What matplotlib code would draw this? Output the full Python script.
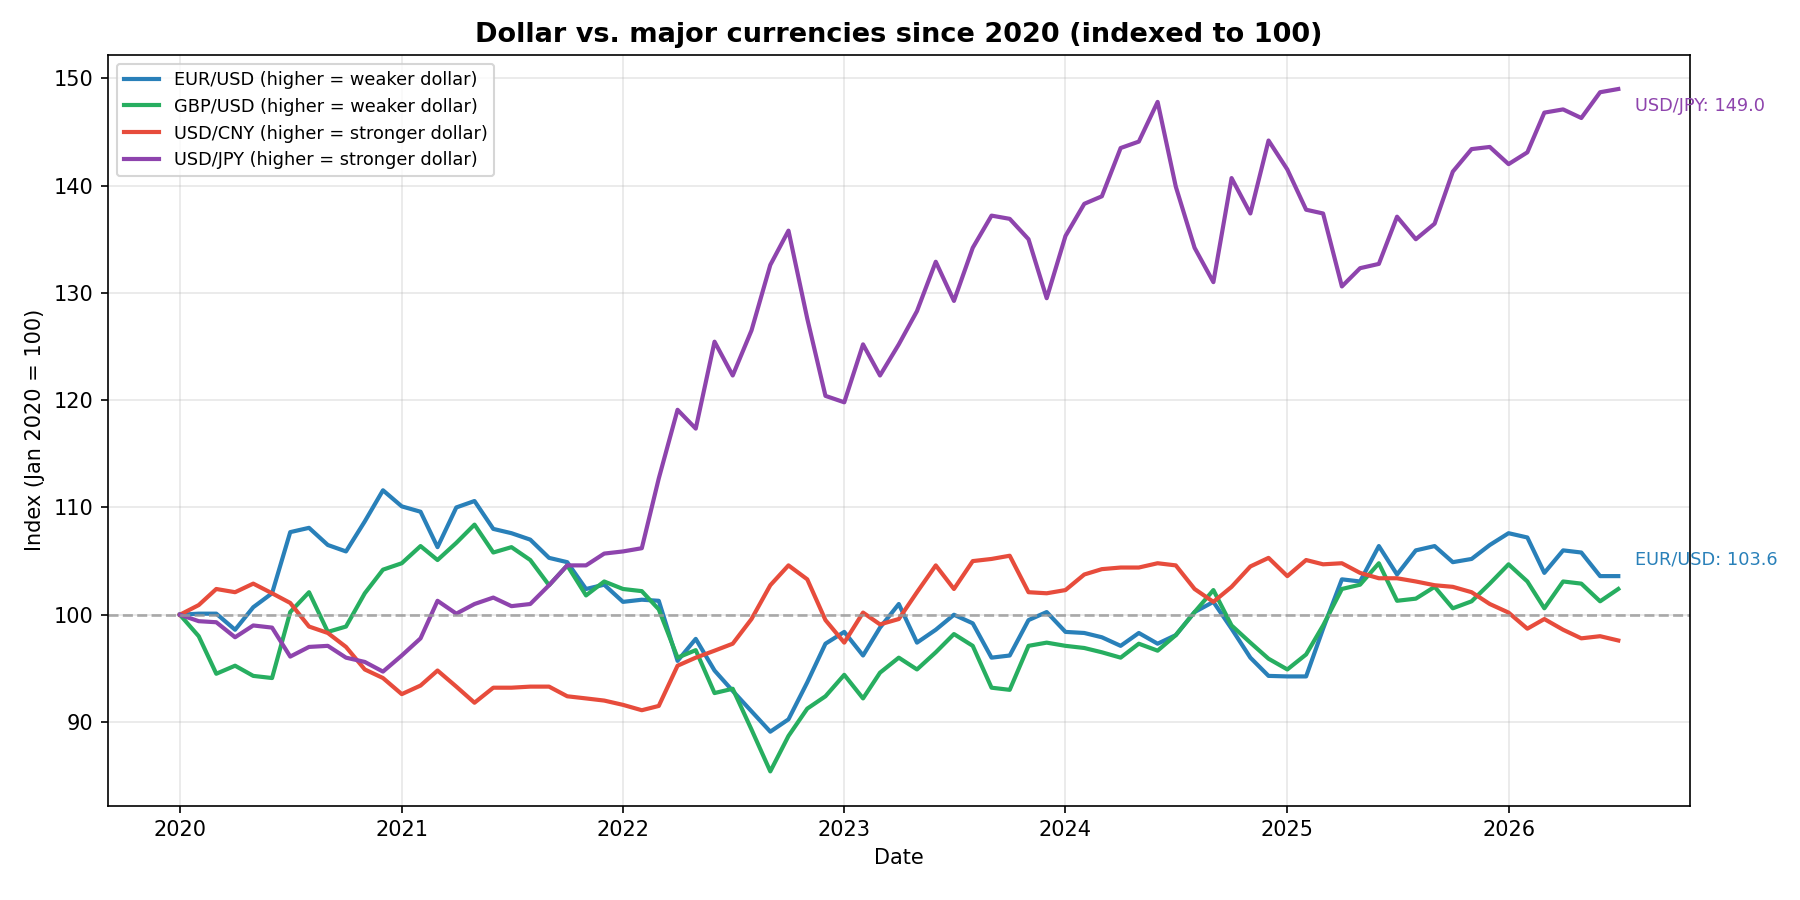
import pandas as pd
import matplotlib
matplotlib.use("Agg")
import matplotlib.pyplot as plt
import matplotlib.dates as mdates

plt.rcParams['font.family'] = ['DejaVu Sans']

# monthly index values, Jan 2020 .. Jul 2026 (Jan 2020 = 100)
dates = pd.date_range("2020-01-01", periods=79, freq="MS")

eur_usd = [100.0, 100.1, 100.1, 98.6, 100.7, 102.0, 107.7, 108.1, 106.5, 105.9, 108.7, 111.6,
           110.1, 109.6, 106.3, 110.0, 110.6, 108.0, 107.6, 107.0, 105.3, 104.9, 102.4, 102.8,
           101.2, 101.4, 101.3, 95.7, 97.75, 94.8, 92.9, 91.0, 89.1, 90.25, 93.7, 97.3,
           98.4, 96.2, 98.8, 101.0, 97.4, 98.6, 100.0, 99.2, 96.0, 96.2, 99.5, 100.25,
           98.4, 98.3, 97.9, 97.1, 98.3, 97.3, 98.1, 100.25, 101.2, 98.7, 96.0, 94.3,
           94.25, 94.25, 98.7, 103.3, 103.1, 106.4, 103.75, 106.0, 106.4, 104.9, 105.2, 106.5,
           107.6, 107.2, 103.9, 106.0, 105.8, 103.6, 103.6]

gbp_usd = [100.0, 98.0, 94.5, 95.25, 94.3, 94.1, 100.25, 102.1, 98.4, 98.9, 102.0, 104.2,
           104.8, 106.4, 105.1, 106.7, 108.4, 105.8, 106.3, 105.1, 102.75, 104.6, 101.8, 103.1,
           102.4, 102.2, 100.5, 96.0, 96.7, 92.7, 93.1, 89.3, 85.4, 88.7, 91.25, 92.4,
           94.4, 92.2, 94.6, 96.0, 94.9, 96.5, 98.2, 97.1, 93.2, 93.0, 97.1, 97.4,
           97.1, 96.9, 96.5, 96.0, 97.3, 96.65, 98.1, 100.25, 102.3, 99.0, 97.4, 95.9,
           94.9, 96.3, 99.0, 102.4, 102.8, 104.8, 101.3, 101.5, 102.6, 100.6, 101.25, 102.9,
           104.7, 103.1, 100.6, 103.1, 102.9, 101.25, 102.4]

usd_cny = [100.0, 100.9, 102.4, 102.1, 102.9, 102.0, 101.1, 98.9, 98.3, 97.0, 94.9, 94.1,
           92.6, 93.4, 94.8, 93.3, 91.8, 93.2, 93.2, 93.3, 93.3, 92.4, 92.2, 92.0,
           91.6, 91.1, 91.5, 95.25, 96.0, 96.65, 97.3, 99.6, 102.75, 104.6, 103.3, 99.5,
           97.4, 100.2, 99.1, 99.6, 102.1, 104.6, 102.4, 105.0, 105.2, 105.5, 102.1, 102.0,
           102.3, 103.75, 104.25, 104.4, 104.4, 104.8, 104.6, 102.4, 101.2, 102.6, 104.5, 105.3,
           103.6, 105.1, 104.7, 104.8, 103.9, 103.4, 103.4, 103.1, 102.75, 102.6, 102.1, 101.0,
           100.2, 98.7, 99.6, 98.6, 97.8, 98.0, 97.6]

usd_jpy = [100.0, 99.4, 99.3, 97.9, 99.0, 98.8, 96.1, 97.0, 97.1, 96.0, 95.6, 94.7,
           96.2, 97.8, 101.3, 100.1, 101.0, 101.6, 100.8, 101.0, 102.75, 104.6, 104.6, 105.7,
           105.9, 106.2, 112.7, 119.1, 117.35, 125.45, 122.3, 126.5, 132.6, 135.8, 127.6, 120.4,
           119.8, 125.2, 122.3, 125.2, 128.3, 132.9, 129.25, 134.2, 137.2, 136.9, 135.0, 129.5,
           135.3, 138.3, 139.0, 143.5, 144.1, 147.8, 139.9, 134.2, 131.0, 140.7, 137.4, 144.2,
           141.5, 137.75, 137.4, 130.6, 132.3, 132.7, 137.1, 135.0, 136.45, 141.3, 143.4, 143.6,
           142.0, 143.1, 146.8, 147.1, 146.3, 148.7, 149.0]

labels = ["EUR/USD (higher = weaker dollar)", "GBP/USD (higher = weaker dollar)",
          "USD/CNY (higher = stronger dollar)", "USD/JPY (higher = stronger dollar)"]
colors = ["#2980b9", "#27ae60", "#e74c3c", "#8e44ad"]

fig, ax = plt.subplots(figsize=(12, 6), dpi=150)
fig.subplots_adjust(left=0.06, right=0.939, top=0.939, bottom=0.105)

for series, lab, col in zip([eur_usd, gbp_usd, usd_cny, usd_jpy], labels, colors):
    ax.plot(dates, series, color=col, linewidth=2, label=lab)

ax.axhline(100, color="#999999", linestyle="--", linewidth=1.3, alpha=0.8)

# end-of-series labels
ax.annotate(f"EUR/USD: {eur_usd[-1]:.1f}", xy=(dates[-1], eur_usd[-1]), xytext=(8, 8),
            textcoords="offset points", va="center", ha="left", fontsize=8.5,
            color=colors[0], annotation_clip=False)
ax.annotate(f"USD/JPY: {usd_jpy[-1]:.1f}", xy=(dates[-1], usd_jpy[-1]), xytext=(8, -8),
            textcoords="offset points", va="center", ha="left", fontsize=8.5,
            color=colors[3], annotation_clip=False)

ax.set_title("Dollar vs. major currencies since 2020 (indexed to 100)", fontsize=13, fontweight="bold")
ax.set_xlabel("Date", fontsize=10)
ax.set_ylabel("Index (Jan 2020 = 100)", fontsize=10)
ax.xaxis.set_major_locator(mdates.YearLocator())
ax.xaxis.set_major_formatter(mdates.DateFormatter("%Y"))
ax.grid(True, alpha=0.3)
ax.legend(loc="upper left", fontsize=8.5)

plt.savefig("out.png", dpi=150)
